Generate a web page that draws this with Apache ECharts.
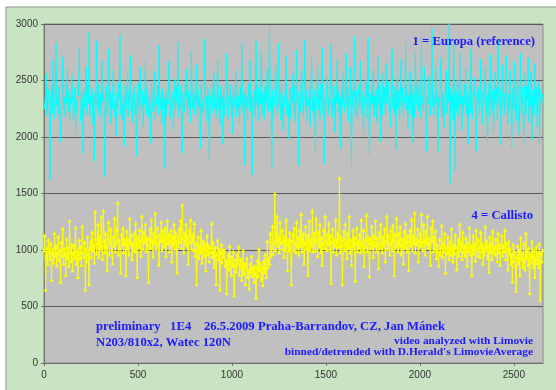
<!DOCTYPE html>
<html>
<head>
<meta charset="utf-8">
<script src="https://cdn.jsdelivr.net/npm/echarts@6/dist/echarts.min.js"></script>
<style>html,body{margin:0;padding:0;background:#fff}#c{width:556px;height:390px}</style>
</head>
<body>
<div id="c"></div>
<script>
// sample step (frame index spacing between kept points)
var sampleStep = 4;
var xTicks = [0, 500, 1000, 1500, 2000, 2500];
var yTicks = [0, 500, 1000, 1500, 2000, 2500, 3000];
var europaName = '1 = Europa (reference)';
var callistoName = '4 = Callisto';
var europa = [
2310,2250,2380,2560,2190,2330,2420,2270,1620,2350,2440,2210,2680,2300,2160,2400,2830,2280,2370,2200,
2450,2320,1960,2260,2390,2710,2240,2350,2180,2470,2300,2600,2220,2410,2130,2340,2290,2550,2380,2150,
2270,2440,2030,2330,2210,2480,2360,2790,2250,2140,2390,2310,1850,2420,2260,2350,2620,2200,2460,2300,
2930,2180,2370,2290,2430,2110,2340,1790,2400,2260,2850,2330,2200,2470,2250,2380,2160,2680,2310,2420,
2230,1650,2350,2450,2190,2320,2780,2270,2400,2120,2360,2250,2590,2440,2180,2300,2010,2390,2270,2480,
2340,2900,2200,2410,2290,2150,2370,1920,2460,2250,2330,2560,2180,2420,2300,2720,2240,2380,2130,2350,
2450,2210,2310,1830,2390,2270,2480,2160,2620,2330,2250,2410,2090,2360,2290,2690,2200,2440,2310,2170,
2380,2260,1950,2470,2330,2220,2400,2580,2150,2350,2280,2460,2190,2810,2310,2240,2390,2120,2430,2270,
2340,1720,2410,2200,2360,2290,2670,2450,2170,2320,2250,2400,2060,2380,2510,2230,2440,2300,2840,2180,
2350,2270,2460,2150,1860,2390,2300,2220,2480,2340,2600,2190,2410,2260,2370,2130,2760,2320,2250,2430,
2200,2380,2310,2640,2160,2420,2270,2350,1900,2460,2230,2330,2190,2410,2870,2290,2360,2140,2440,2250,
1800,2370,2300,2480,2210,2340,2560,2260,2410,2170,2320,2690,2240,2390,2110,2450,2280,2350,1940,2420,
2190,2330,2260,2740,2400,2160,2370,2290,2460,2200,2350,2030,2430,2270,2310,2590,2180,2400,2250,2360,
2120,2440,2280,2830,2330,2210,2380,1750,2420,2260,2350,2150,2470,2300,2680,2230,2390,1670,2340,2270,
2410,2180,2850,2320,2250,2440,2140,2370,2290,2760,2200,2400,2310,2160,2450,2270,2350,2600,2220,2380,
2980,2240,2330,1720,2420,2190,2360,2280,2640,2450,2210,2310,2830,2250,2390,2150,2470,2300,2060,2360,
2270,2420,2720,2200,2340,2290,1980,2430,2170,2380,2310,2560,2240,2450,2130,2350,2770,2280,2400,1750,
2330,2220,2460,2590,2300,2190,2380,2860,2250,2410,2140,2340,2270,2450,2090,2370,2710,2230,2320,2180,
2420,1860,2290,2360,2630,2240,2400,2150,2470,2310,2790,2200,2380,1760,2330,2260,2450,2540,2190,2350,
2280,2410,2830,2170,2340,2250,2450,2040,2380,2300,2680,2220,2400,2160,2350,1900,2460,2270,2560,2330,
2210,2390,2740,2260,2440,2130,2370,2290,2620,1740,2410,2250,2350,2890,2190,2420,2300,2150,2380,2460,
2250,2670,2330,2200,2400,2030,2350,2280,2510,2440,2170,2880,2310,1830,2390,2240,2450,2300,2600,2180,
2360,2270,2420,2130,2720,2330,2250,2470,1960,2380,2200,2560,2310,2440,2190,2650,2290,2400,2490,2230,
2340,2090,2430,2780,2260,2380,2200,2450,1890,2320,2540,2240,2410,2150,2360,2690,2280,2440,2180,2350,
2310,2830,2240,2400,2060,2370,2290,2580,2200,2460,2330,1950,2390,2170,2760,2280,2420,2500,2230,2340,
2430,2170,2880,2300,2360,2220,2620,2410,2250,1880,2380,2290,2540,2460,2190,2350,2960,2270,2400,2230,
2190,2630,2300,2420,1870,2350,2250,2480,2700,2170,2330,2400,2080,2290,2450,2590,2210,2370,2310,3030,
1590,2440,2260,2380,2150,2850,2320,1700,2410,2230,2520,2340,2180,2740,2290,2400,2060,2360,2250,2470,
2280,2600,2200,2390,1940,2330,2450,2210,2780,2300,2160,2420,2350,2530,2240,1880,2400,2310,2440,2190,
2260,2690,2340,2110,2400,2280,2450,2620,2200,2370,1960,2310,2480,2180,2730,2350,2240,2410,2050,2330,
2570,2290,2440,2150,2850,2360,2230,2420,1930,2300,2640,2270,2390,2200,2460,2720,2330,2110,2380,2250,
2590,2410,1900,2300,2430,2240,2670,2350,2140,2400,2510,2280,2020,2360,2740,2230,2440,2300,1950,2390,
2560,2200,2450,2320,2700,2130,2380,2270,2580,1970,2410,2330,2200,2650,2290,2440,2090,2360,2490,1940,
2420,2350,2290,2380
];
var callisto = [
1000,1130,650,940,1020,880,1090,990,920,1060,740,970,1010,890,1150,950,1040,860,980,1120,
910,1000,720,1070,950,1190,880,1010,960,780,1100,930,1020,860,1260,990,900,1050,820,970,
1040,930,1200,880,1000,760,960,1090,920,1030,870,1210,980,940,1070,650,1010,900,1120,960,
700,1010,1080,940,1160,1000,1050,890,1340,1100,970,1060,1230,940,1120,1010,1300,1040,920,1350,
1080,980,1150,1030,820,1100,1250,960,1060,1190,1000,880,1120,1040,1280,990,1070,1180,1420,960,
1090,1020,800,1140,1050,1200,980,1100,1060,780,1170,1010,1090,960,1280,1050,1130,920,1060,1000,
1150,990,1240,1060,760,1120,1030,1180,1080,950,1300,1100,1010,1160,1070,1230,990,1110,1040,720,
1100,1190,1020,1270,1080,940,1150,1060,1330,1010,1120,1200,1050,870,1140,1080,1250,1000,1170,1090,
1030,1200,950,1110,1260,1060,1140,990,1080,1180,900,1120,1050,1230,1010,1160,1080,800,1130,1040,
1190,1070,1260,1020,1400,1100,980,1150,1060,1230,1040,1120,880,1180,1070,1270,1010,1140,1090,1000,
1240,950,1060,700,1000,1120,930,1040,980,1180,890,1010,1080,950,1050,820,1000,1130,960,1040,
900,1020,980,1240,940,1070,850,990,1030,700,960,1090,920,1010,650,980,1050,890,1000,940,
1000,860,910,620,880,960,830,1040,900,780,940,860,990,600,870,920,810,960,880,1030,
780,860,920,740,830,1000,790,880,700,850,930,760,820,660,880,800,950,770,840,720,
860,790,580,840,910,770,1010,820,880,740,850,690,900,800,960,830,760,1080,850,920,
880,1150,950,1020,1210,970,1060,1500,1000,1090,1300,1040,1120,980,1250,1060,1010,1180,1080,940,
1120,1000,1270,1050,820,1090,1000,1160,1020,700,1080,1140,1000,1200,1060,980,1250,1030,1110,960,
1180,1040,1320,990,1090,1150,880,1060,1210,1010,1130,780,1070,1260,1000,1100,1040,1350,990,1150,
1070,1000,1280,1090,950,1160,1040,1230,980,1110,870,1060,1180,1020,1300,1080,1000,1140,1050,1240,
1010,1130,710,1070,1190,990,1100,1040,1270,960,1080,1150,1030,1640,980,1120,1050,700,1090,1170,
1000,1230,1060,930,1150,1020,1300,980,1090,870,1040,1180,1010,1110,730,1060,1200,990,1080,1020,
1140,980,1270,1050,1000,1180,860,1090,1030,1310,990,1120,1060,770,1100,1020,1210,1070,940,1130,
1040,1260,990,1110,1050,840,1160,1020,1230,1070,980,1120,1040,1190,900,1080,1300,1010,1130,1050,
960,1180,1060,1000,1220,1090,780,1140,1030,1280,1070,990,1150,1040,1210,960,1100,1050,880,1170,
1020,1240,1070,990,1130,820,1080,1180,1040,1270,1000,1120,1060,1330,980,1100,1050,1190,900,1080,
1150,1040,1320,1070,1000,1230,1090,960,1170,1060,1300,1020,1110,1050,870,1200,1080,1260,990,1120,
1010,1170,930,1050,980,860,1100,960,1020,1220,940,1060,990,1150,800,1030,970,1120,1000,920,
1080,960,1190,1010,900,1050,970,1140,1020,830,990,1100,950,1230,1000,1060,920,1160,980,1040,
950,1110,1000,860,1070,990,1200,960,1040,780,1010,1130,970,1060,910,1180,1000,950,1090,1020,
940,1160,990,1050,880,1020,960,1210,1000,1080,930,1040,810,1120,980,1060,920,1170,990,1030,
960,1100,1010,900,1150,980,1050,870,1020,1130,950,1040,990,1180,920,1060,1000,830,1080,970,
1010,880,960,720,1050,900,990,860,640,940,1040,880,1000,780,1110,920,970,850,1060,900,
830,1150,930,990,870,1020,620,960,890,1080,940,850,1000,760,920,1030,880,980,850,1060,
560,970,900,1000
];
var noteLines = [
  'preliminary   1E4    26.5.2009 Praha-Barrandov, CZ, Jan Mánek',
  'N203/810x2, Watec 120N'
];
var creditLines = [
  'video analyzed with Limovie',
  "binned/detrended with D.Herald's LimovieAverage"
];

function pairs(arr) {
  return arr.map(function (v, i) { return [i * sampleStep, v]; });
}

var chart = echarts.init(document.getElementById('c'), null, {renderer: 'canvas'});
var serif = '"Liberation Serif", "Times New Roman", serif';
var sans = '"Liberation Sans", Arial, sans-serif';
var blue = '#1a1aff';

chart.setOption({
  backgroundColor: '#ffffff',
  animation: false,
  grid: {
    left: 44, top: 24, right: 13, bottom: 27,
    show: true, backgroundColor: '#c0c0c0', borderColor: '#8a8a8a', borderWidth: 1
  },
  xAxis: {
    type: 'value', min: 0, max: 2655, interval: 500,
    axisLine: {show: true, lineStyle: {color: '#6e6e6e'}},
    axisTick: {show: true, length: 3, lineStyle: {color: '#6e6e6e'}},
    splitLine: {show: false},
    axisLabel: {
      color: '#333', fontFamily: sans, fontSize: 10, margin: 7,
      formatter: function (v) { return xTicks.indexOf(v) >= 0 ? String(v) : ''; },
      showMaxLabel: false
    }
  },
  yAxis: {
    type: 'value', min: 0, max: 3000, interval: 500,
    axisLine: {show: true, lineStyle: {color: '#6e6e6e'}},
    axisTick: {show: true, length: 3, lineStyle: {color: '#6e6e6e'}},
    splitLine: {show: true, lineStyle: {color: '#5a5a5a', width: 1}},
    axisLabel: {
      color: '#333', fontFamily: sans, fontSize: 10, margin: 6,
      formatter: function (v) { return yTicks.indexOf(v) >= 0 ? String(v) : ''; }
    }
  },
  series: [
    {
      name: europaName, type: 'line', data: pairs(europa),
      symbol: 'none', lineStyle: {color: '#00ffff', width: 1}, itemStyle: {color: '#00ffff'},
      z: 3
    },
    {
      name: callistoName, type: 'line', data: pairs(callisto),
      symbol: 'triangle', symbolSize: 4, showAllSymbol: true,
      lineStyle: {color: '#ffff00', width: 1}, itemStyle: {color: '#ffff00'},
      z: 4
    }
  ],
  graphic: [
    {type: 'rect', z: -10, silent: true, shape: {x: 6, y: 7, width: 552, height: 386},
     style: {fill: '#c9e4c2', stroke: '#8c9a8c', lineWidth: 1}},
    {type: 'text', right: 21, top: 35, z: 100,
     style: {text: europaName, fill: blue, font: 'bold 12.7px ' + serif}},
    {type: 'text', right: 23, top: 209, z: 100,
     style: {text: callistoName, fill: blue, font: 'bold 12.7px ' + serif}},
    {type: 'text', left: 96, top: 320, z: 100,
     style: {text: noteLines[0], fill: blue, font: 'bold 12.7px ' + serif}},
    {type: 'text', left: 96, top: 336, z: 100,
     style: {text: noteLines[1], fill: blue, font: 'bold 12.7px ' + serif}},
    {type: 'text', right: 23, top: 336, z: 100,
     style: {text: creditLines[0], fill: blue, font: 'bold 11.4px ' + serif}},
    {type: 'text', right: 23, top: 347, z: 100,
     style: {text: creditLines[1], fill: blue, font: 'bold 11.4px ' + serif}}
  ]
});
</script>
</body>
</html>
